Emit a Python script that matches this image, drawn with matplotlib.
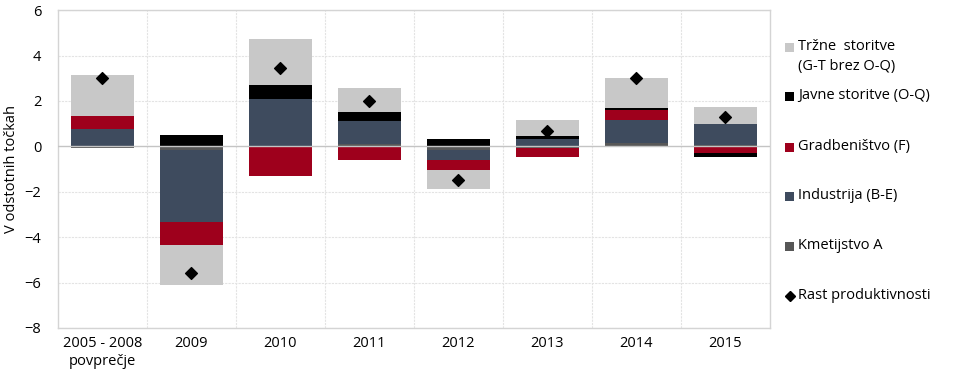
import matplotlib
matplotlib.use("Agg")
import matplotlib.pyplot as plt
from matplotlib.patches import Rectangle
import numpy as np

# Data (contributions in percentage points)
categories = ["2005 - 2008\npovprečje", "2009", "2010", "2011", "2012", "2013", "2014", "2015"]
kmetijstvo = [-0.08, -0.16, 0.00, 0.10, -0.16, -0.05, 0.15, 0.08]
industrija = [0.75, -3.16, 2.09, 1.02, -0.46, 0.31, 1.02, 0.92]
gradbenistvo = [0.59, -1.04, -1.31, -0.59, -0.40, -0.43, 0.45, -0.28]
javne = [0.00, 0.51, 0.63, 0.40, 0.34, 0.16, 0.07, -0.20]
trzne = [1.79, -1.75, 2.03, 1.03, -0.85, 0.70, 1.31, 0.75]
rast = [3.02, -5.58, 3.47, 2.00, -1.50, 0.69, 3.00, 1.31]

series = [
    ("Kmetijstvo A", kmetijstvo, "#575757"),
    ("Industrija (B-E)", industrija, "#3e4b5e"),
    ("Gradbeništvo (F)", gradbenistvo, "#9e001c"),
    ("Javne storitve (O-Q)", javne, "#000000"),
    ("Tržne  storitve\n(G-T brez O-Q)", trzne, "#c8c8c8"),
]

plt.rcParams['font.family'] = ['Open Sans', 'DejaVu Sans']

fig = plt.figure(figsize=(9.6, 3.76), dpi=100)
ax = fig.add_axes([0.0604, 0.1277, 0.7416, 0.8453])

x = np.arange(len(categories))
width = 0.71
pos_base = np.zeros(len(categories))
neg_base = np.zeros(len(categories))
for name, vals, col in series:
    v = np.array(vals)
    bottom = np.where(v >= 0, pos_base, neg_base)
    ax.bar(x, v, width, bottom=bottom, color=col, edgecolor="none", zorder=3)
    pos_base += np.where(v >= 0, v, 0)
    neg_base += np.where(v < 0, v, 0)

ax.scatter(x, rast, marker="D", s=36, color="black", zorder=5)

ax.set_xlim(-0.5, len(categories) - 0.5)
ax.set_ylim(-8, 6)
ax.set_yticks(np.arange(-8, 7, 2))
ax.set_xticks(x)
ax.set_xticklabels(categories, fontsize=10.5)
ax.tick_params(axis="y", labelsize=10.5, length=0, pad=12)
ax.tick_params(axis="x", length=0, pad=6)
ax.set_ylabel("V odstotnih točkah", fontsize=10.5, labelpad=4)

# grid
for yv in np.arange(-8, 7, 2):
    if yv != 0:
        ax.axhline(yv, color="#e3e3e3", lw=0.8, ls=(0, (2, 1)), zorder=1)
for xv in np.arange(0.5, len(categories) - 0.5, 1):
    ax.axvline(xv, color="#e3e3e3", lw=0.8, ls=(0, (2, 1)), zorder=1)
ax.axhline(0, color="#c4c4c4", lw=1.0, zorder=4)
for s in ax.spines.values():
    s.set_color("#d4d4d4")
    s.set_linewidth(1.0)

# legend drawn manually on the right
W, H = 960.0, 376.0
legend_items = [
    ("Tržne  storitve\n(G-T brez O-Q)", "#c8c8c8", 47, "sq"),
    ("Javne storitve (O-Q)", "#000000", 96, "sq"),
    ("Gradbeništvo (F)", "#9e001c", 147, "sq"),
    ("Industrija (B-E)", "#3e4b5e", 196, "sq"),
    ("Kmetijstvo A", "#575757", 246, "sq"),
    ("Rast produktivnosti", "#000000", 296, "dia"),
]
for label, col, ypx, kind in legend_items:
    yc = 1 - ypx / H
    if kind == "sq":
        fig.patches.append(Rectangle((785 / W, yc - 4.5 / H), 9 / W, 9 / H,
                                     transform=fig.transFigure, facecolor=col,
                                     edgecolor="none"))
    else:
        fig.lines.append(plt.Line2D([789.5 / W], [yc], marker="D", markersize=5,
                                    color="black", transform=fig.transFigure))
    fig.text(798 / W, yc + 8 / H, label, fontsize=10.5, va="top", ha="left",
             linespacing=1.45)

fig.savefig("out.png", dpi=100, facecolor="white")
